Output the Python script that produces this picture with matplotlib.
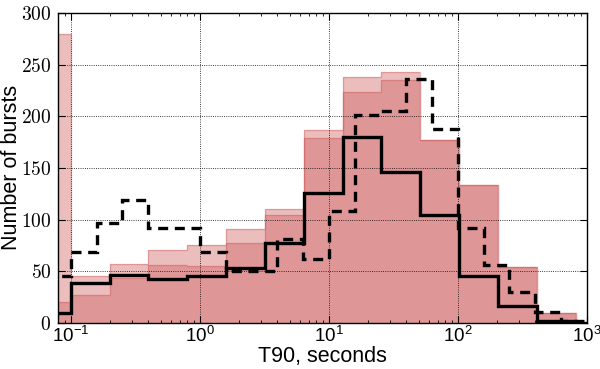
import numpy as np
import matplotlib
matplotlib.use("Agg")
import matplotlib.pyplot as plt
from matplotlib.ticker import FuncFormatter, LogLocator

plt.rcParams['mathtext.fontset'] = 'cm'
plt.rcParams['font.family'] = ['Liberation Sans', 'DejaVu Sans']

# histogram bins (factor of 2 in T90), first bin is below 0.1 s
edges = 0.05 * 2.0 ** np.arange(15)
all_bursts = [280, 45, 57, 71, 75.5, 91, 110, 187, 238, 243, 177, 133.5, 54, 10]
sub_bursts = [20, 26.5, 43.5, 56, 55.5, 77.5, 104.5, 178.5, 223, 235, 177, 133.5, 54, 10]

# solid black step (same bins, one empty bin at the end)
solid_edges = 0.05 * 2.0 ** np.arange(16)
solid_counts = [10, 39, 46.5, 42.5, 45, 53, 77.5, 126, 180, 146, 104, 45.5, 16.5, 1.5, 0]

# dashed step, 0.2 dex bins
dash_edges = 10 ** np.linspace(-1.2, 3.0, 22)
dash_counts = [45.5, 69, 97, 119, 92, 92, 69, 50.5, 50.5, 81, 62, 108, 201, 205,
               236, 188, 92, 56, 30, 10.5, 2]

fig = plt.figure(figsize=(6, 3.69), dpi=100)
ax = fig.add_axes([0.097, 0.125, 0.881, 0.840])

col = '#cd5c5c'
ax.stairs(all_bursts, edges, fill=True, color=col, alpha=0.4, lw=0)
ax.stairs(all_bursts, edges, color=col, alpha=0.4, lw=1)
ax.stairs(sub_bursts, edges, fill=True, color=col, alpha=0.4, lw=0)
ax.stairs(sub_bursts, edges, color=col, alpha=0.4, lw=1)

ax.stairs(solid_counts, solid_edges, color='black', lw=2.4, baseline=None)
ax.stairs(dash_counts, dash_edges, color='black', lw=2.4, ls=(0, (3, 2)), baseline=None)

ax.set_xscale('log')
ax.set_xlim(0.08, 1000)
ax.set_ylim(0, 300)
ax.set_yticks(np.arange(0, 301, 50))
ax.yaxis.set_major_formatter(FuncFormatter(lambda v, p: r'$%d$' % v))
ax.xaxis.set_minor_locator(LogLocator(base=10, subs=np.arange(2, 10), numticks=20))

ax.grid(True, which='major', ls=':', color='black', lw=0.6)
ax.tick_params(which='both', direction='in', top=True, right=True)
ax.tick_params(axis='x', labelsize=13.5, pad=2)
ax.tick_params(axis='y', labelsize=14, pad=5)
ax.tick_params(which='major', length=5)
ax.tick_params(which='minor', length=2.5)
for s in ax.spines.values():
    s.set_linewidth(1.0)

ax.set_xlabel('T90, seconds', fontsize=15.5)
ax.set_ylabel('Number of bursts', fontsize=15.5)
ax.xaxis.set_label_coords(0.5, -0.074)
ax.yaxis.set_label_coords(-0.068, 0.5)

fig.savefig('out.png', dpi=100)
